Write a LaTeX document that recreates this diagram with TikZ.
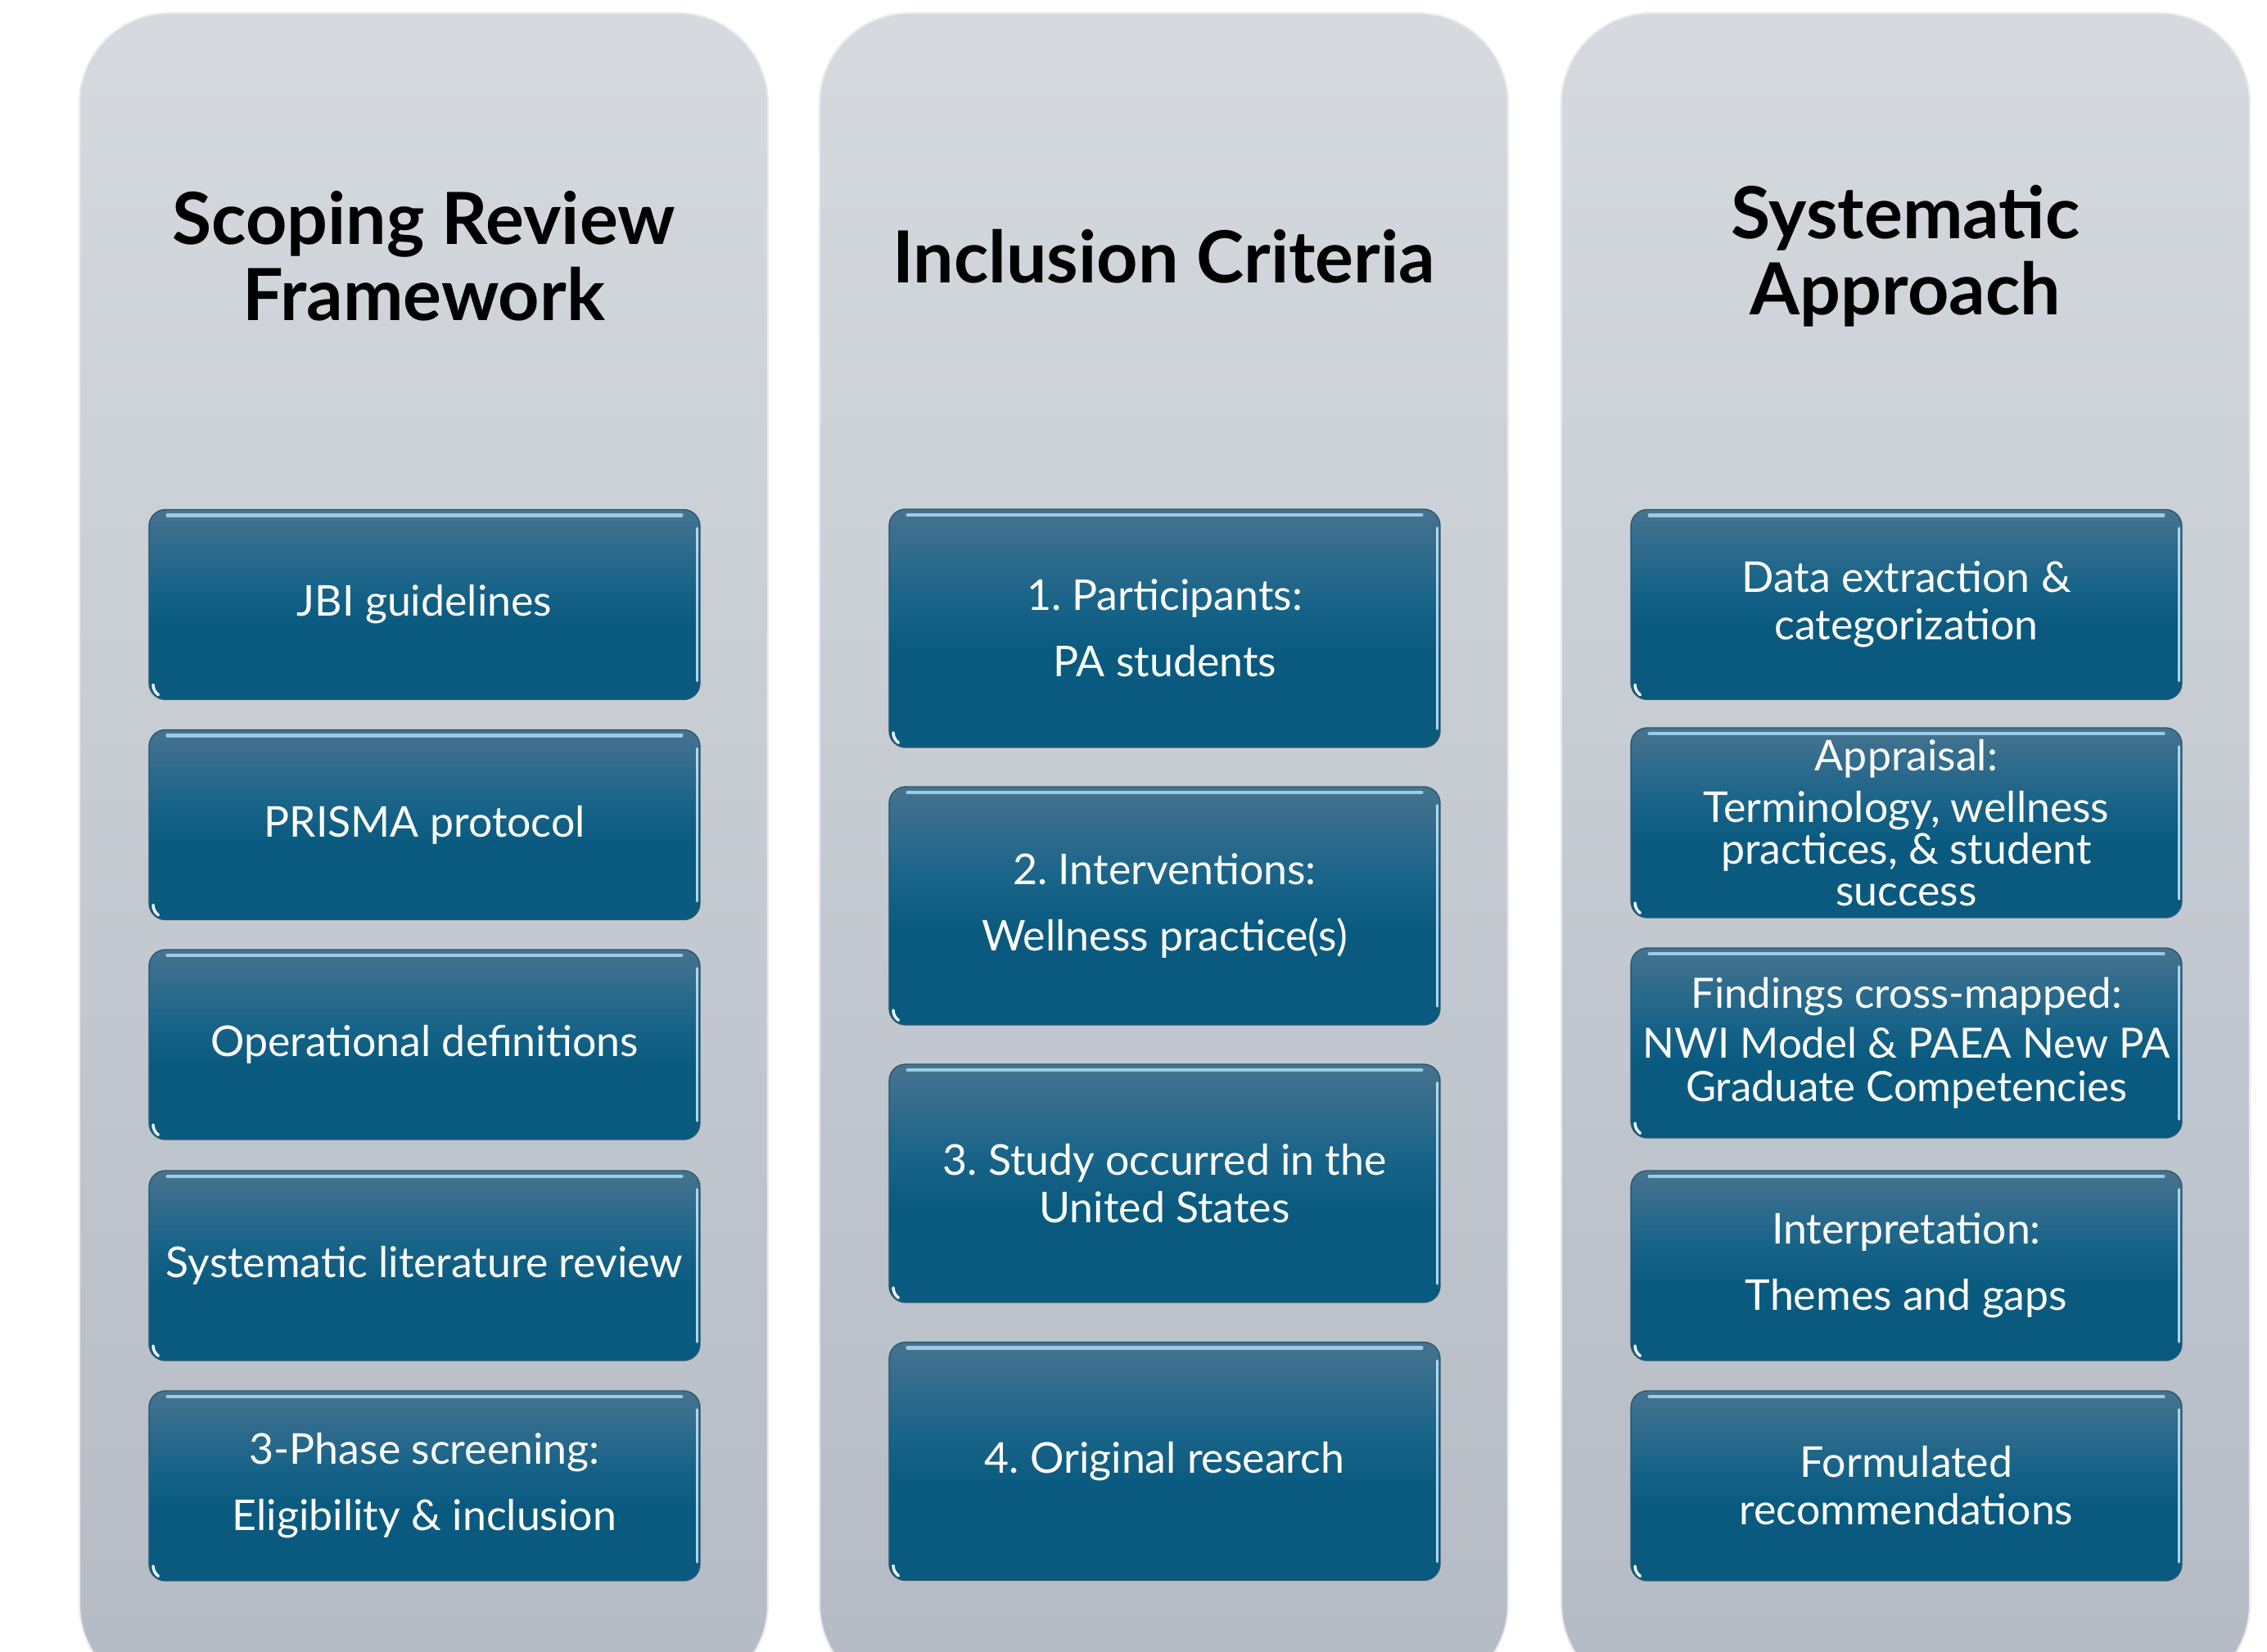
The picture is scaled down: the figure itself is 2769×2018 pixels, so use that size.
\documentclass[tikz,border=0pt]{standalone}
\usepackage{fontspec}
\setmainfont{Lato}
\frenchspacing
\definecolor{coltop}{HTML}{D6DADF}
\definecolor{colbot}{HTML}{B4BBC4}
\definecolor{colline}{HTML}{E8EBEF}
\definecolor{boxtop}{HTML}{46738F}
\definecolor{boxmid}{HTML}{1A6489}
\definecolor{boxbot}{HTML}{0A5A80}
\definecolor{boxline}{HTML}{2A5670}
\definecolor{hilite}{HTML}{9CCBE6}
\pgfdeclareverticalshading{boxshade}{100bp}{color(0bp)=(boxbot); color(45bp)=(boxbot); color(56bp)=(boxmid); color(75bp)=(boxtop); color(100bp)=(boxtop)}
\tikzset{
  colbox/.style={rounded corners=2.2cm, top color=coltop, bottom color=colbot, draw=colline, line width=1.2pt},
  stepbox/.style={shading=boxshade, draw=boxline, line width=0.8pt, rounded corners=0.4cm,
     minimum width=13.46cm, inner sep=0pt, outer sep=0pt, text=white, align=center,
     font=\fontsize{29.5}{33}\selectfont},
  shortbox/.style={stepbox, minimum height=4.64cm},
  tallbox/.style={stepbox, minimum height=5.82cm},
  coltitle/.style={align=center, font=\fontsize{50}{53}\selectfont\bfseries, text=black},
  hl/.style={draw=hilite, line width=2.4pt, line cap=round},
  hlr/.style={draw=hilite!80!white, line width=1.4pt, line cap=round},
}
\begin{document}
\begin{tikzpicture}[x=0.02cm,y=-0.02cm]
\useasboundingbox (0,0) rectangle (2769,2018);
\clip (0,0) rectangle (2769,2018);
% columns
\path[colbox] (97,16) rectangle (938,2070);
\path[colbox] (1001,16) rectangle (1842,2070);
\path[colbox] (1907,16) rectangle (2748,2070);
% titles
\node[coltitle] (t1) at (517.5,313) {Scoping Review\\Framework};
\node[coltitle] (t2) at (1421.5,313) {Inclusion Criteria};
\node[coltitle] (t3) at (2327.5,313) {Systematic\\Approach};
% column 1
\node[shortbox] (a1) at (518.5,738.5) {JBI guidelines};
\node[shortbox] (a2) at (518.5,1007.5) {PRISMA protocol};
\node[shortbox] (a3) at (518.5,1276) {Operational definitions};
\node[shortbox] (a4) at (518.5,1546) {Systematic literature review};
\node[shortbox] (a5) at (518.5,1815) {3-Phase screening:\\[13pt]Eligibility \& inclusion};
% column 2
\node[tallbox] (b1) at (1422.5,767.5) {1. Participants:\\[13pt]PA students};
\node[tallbox] (b2) at (1422.5,1106.5) {2. Interventions:\\[13pt]Wellness practice(s)};
\node[tallbox] (b3) at (1422.5,1445.5) {3. Study occurred in the\\United States};
\node[tallbox] (b4) at (1422.5,1785) {4. Original research};
% column 3
\node[shortbox] (c1) at (2328.5,738.5) {Data extraction \&\\categorization};
\node[shortbox, font=\fontsize{29.5}{29}\selectfont] (c2) at (2328.5,1005) {Appraisal:\\[7pt]Terminology, wellness\\practices, \& student\\success};
\node[shortbox, font=\fontsize{29}{30}\selectfont] (c3) at (2328.5,1274) {Findings cross-mapped:\\[5pt]NWI Model \& PAEA New PA\\Graduate Competencies};
\node[shortbox] (c4) at (2328.5,1546) {Interpretation:\\[13pt]Themes and gaps};
\node[shortbox] (c5) at (2328.5,1815) {Formulated\\recommendations};
% gloss highlights
\foreach \n in {a1,a2,a3,a4,a5,b1,b2,b3,b4,c1,c2,c3,c4,c5}{
  \draw[hl] ([xshift=0.45cm,yshift=-0.14cm]\n.north west) -- ([xshift=-0.45cm,yshift=-0.14cm]\n.north east);
  \draw[hlr] ([xshift=-0.07cm,yshift=-0.45cm]\n.north east) -- ([xshift=-0.07cm,yshift=0.45cm]\n.south east);
  \draw[draw=white!85!hilite, line width=2pt, line cap=round] ([xshift=0.1cm,yshift=0.36cm]\n.south west) arc[start angle=180, end angle=235, radius=0.3cm];
}
\end{tikzpicture}
\end{document}
